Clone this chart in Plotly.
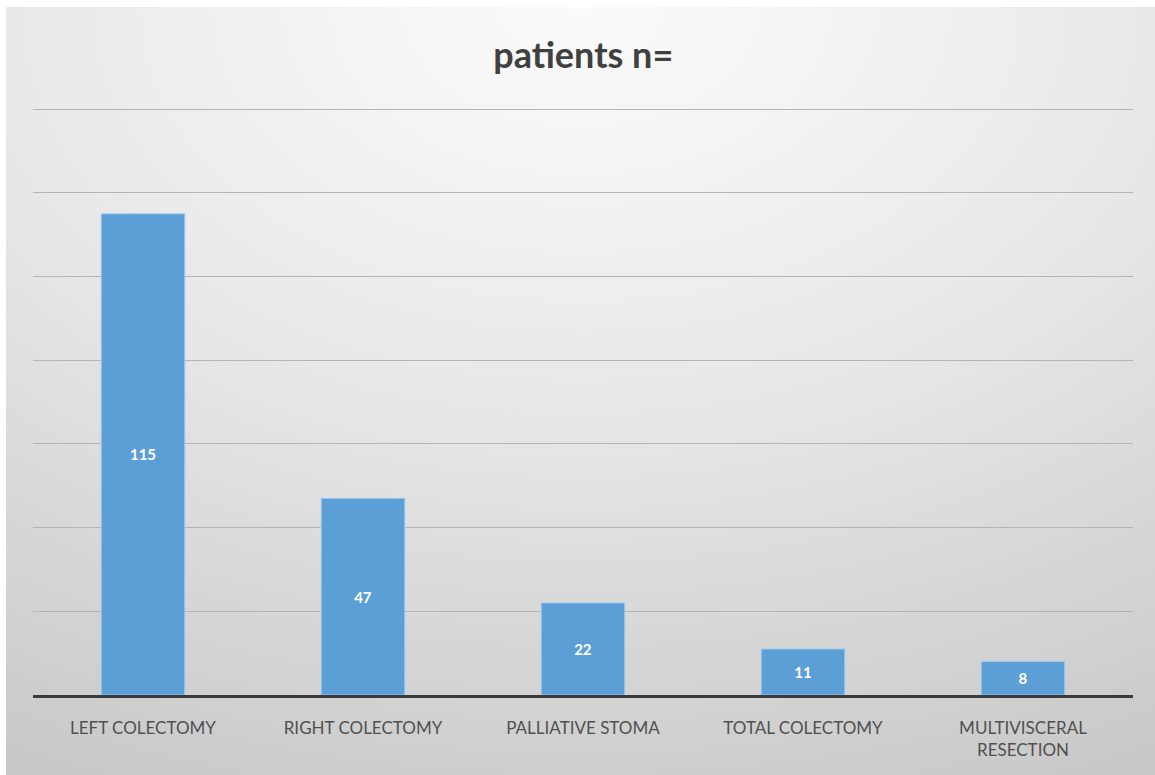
import base64
import plotly.graph_objects as go

categories = ["LEFT COLECTOMY", "RIGHT COLECTOMY", "PALLIATIVE STOMA", "TOTAL COLECTOMY", "MULTIVISCERAL<br>RESECTION"]
patients = [115, 47, 22, 11, 8]

W, H = 1155, 775
ML, MR, MT, MB = 33, 22, 108, 80
pw, ph = W - ML - MR, H - MT - MB

svg = """<svg xmlns='http://www.w3.org/2000/svg' width='1155' height='775' viewBox='0 0 1155 775' preserveAspectRatio='none'>
<defs><radialGradient id='g' cx='50%' cy='0%' r='110%' fx='50%' fy='0%' gradientUnits='objectBoundingBox'>
<stop offset='0' stop-color='#fbfbfb'/><stop offset='0.45' stop-color='#e9e9e9'/><stop offset='1' stop-color='#c8c8c8'/></radialGradient></defs>
<rect width='1155' height='775' fill='#ffffff'/>
<rect x='6' y='7' width='1149' height='768' fill='url(#g)'/></svg>"""
src = "data:image/svg+xml;base64," + base64.b64encode(svg.encode()).decode()

fig = go.Figure(go.Bar(
    x=categories, y=patients, width=0.38,
    marker=dict(color="#5c9ed6", line=dict(color="#a3cbef", width=1)),
    text=[str(v) for v in patients], textposition="inside", insidetextanchor="middle",
    textfont=dict(family="Lato", size=15, color="white", weight="bold"),
    cliponaxis=False,
))

fig.update_layout(
    width=W, height=H,
    margin=dict(l=ML, r=MR, t=MT, b=MB),
    paper_bgcolor="#dcdcdc", plot_bgcolor="rgba(0,0,0,0)",
    images=[dict(source=src, xref="paper", yref="paper", x=-ML / pw, y=1 + MT / ph,
                 sizex=W / pw, sizey=H / ph,
                 xanchor="left", yanchor="top", layer="below", sizing="stretch")],
    title=dict(text="<b>patients n=</b>", x=0.505, xanchor="center", y=0.929, yanchor="middle",
               font=dict(family="Lato", size=36, color="#404040")),
    showlegend=False,
    bargap=0.62,
)
fig.update_xaxes(showline=True, linecolor="#3a3a3a", linewidth=2.5, showgrid=False,
                 tickfont=dict(family="Lato", size=17, color="#505050"),
                 ticks="", ticklabelstandoff=16)
fig.update_yaxes(range=[0, 140.3], dtick=20, showticklabels=False, gridcolor="#b4b4b4",
                 gridwidth=1, zeroline=False)

fig.write_html("out.html", config={"displayModeBar": False},
               post_script="document.body.style.margin='0';document.body.style.overflow='hidden';")
